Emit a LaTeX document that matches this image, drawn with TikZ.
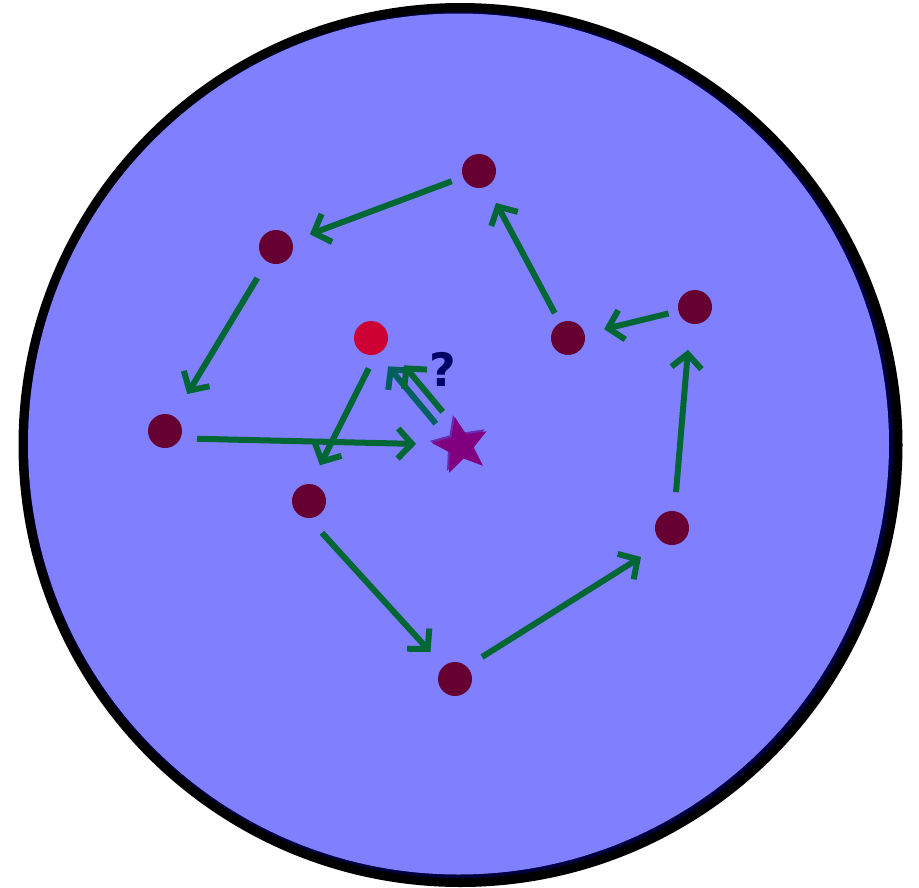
\documentclass[tikz,border=0pt]{standalone}
\usepackage{fontspec}
\setsansfont{Liberation Sans}
\newfontfamily\qfont{DejaVu Sans}
\usetikzlibrary{arrows.meta,shapes.geometric}
\definecolor{bluefill}{HTML}{8080FF}
\definecolor{navyc}{HTML}{000040}
\definecolor{dotc}{HTML}{660033}
\definecolor{redc}{HTML}{CC0033}
\definecolor{greenc}{HTML}{006633}
\definecolor{tealc}{HTML}{006060}
\definecolor{starc}{HTML}{800080}
\definecolor{starsh}{HTML}{6A2AB0}
\definecolor{qc}{HTML}{000066}
\begin{document}
\begin{tikzpicture}[x=1pt,y=-1pt,
  dot/.style={circle,fill=dotc,minimum size=34pt,inner sep=0pt},
  reddot/.style={circle,fill=redc,minimum size=34pt,inner sep=0pt},
  conn/.style={draw=greenc,line width=6pt,-{Straight Barb[length=14pt,width=30pt]}},
  starshape/.style={star,star points=5,star point ratio=2.3,minimum size=59pt,inner sep=0pt,rotate=12}]
\useasboundingbox (0,0) rectangle (919,887);
\draw[draw=black,fill=navyc,line width=9pt] (460.5,445) circle[radius=437.5];
\fill[bluefill] (458.5,444) circle[radius=430.5];
% dots
\node[dot] (A) at (479,171) {};
\node[dot] (B) at (276,247) {};
\node[dot] (C) at (165,431) {};
\node[dot] (D) at (309,501) {};
\node[dot] (E) at (455,679) {};
\node[dot] (F) at (672,528) {};
\node[dot] (G) at (695,307) {};
\node[dot] (H) at (568,338) {};
\node[reddot] (R) at (371,338) {};
% star
\node[starshape,fill=starsh] (S0) at (459,444) {};
\node[starshape,fill=starc] (S) at (461,446) {};
% question mark
\node[text=qc,font=\qfont\bfseries\fontsize{46}{46}\selectfont,inner sep=0pt] (Q) at (443,369) {?};
% connectors
\draw[conn,shorten <=12pt,shorten >=19pt] (A) -- (B);
\draw[conn,shorten <=19pt,shorten >=26pt] (B) -- (C);
\draw[conn,shorten <=32pt,shorten >=45pt] ([yshift=-7pt]C.center) -- ([yshift=1pt]S.center);
\draw[conn,shorten <=34pt,shorten >=40pt] ([xshift=13pt]R.center) -- ([xshift=-7pt]D.center);
\draw[conn,shorten <=43pt,shorten >=36.5pt] ([xshift=-16pt]D.center) -- (E.center);
\draw[conn,shorten <=32pt,shorten >=36.6pt] ([yshift=5pt]E.center) -- ([yshift=-9.5pt]F.center);
\draw[conn,shorten <=36pt,shorten >=43pt] ([xshift=1pt]F.center) -- ([xshift=-3.4pt]G.center);
\draw[conn,shorten <=10pt,shorten >=20pt] (G) -- (H);
\draw[conn,shorten <=11pt,shorten >=19pt] (H) -- (A);
\draw[conn,draw=tealc,shorten <=33pt,shorten >=33pt] ([shift={(-4,3)}]S.center) -- ([shift={(-4,3)}]R.center);
\draw[conn,shorten <=38pt,shorten >=42pt] ([shift={(6,-5)}]S.center) -- ([shift={(6,-5)}]R.center);
\end{tikzpicture}
\end{document}
